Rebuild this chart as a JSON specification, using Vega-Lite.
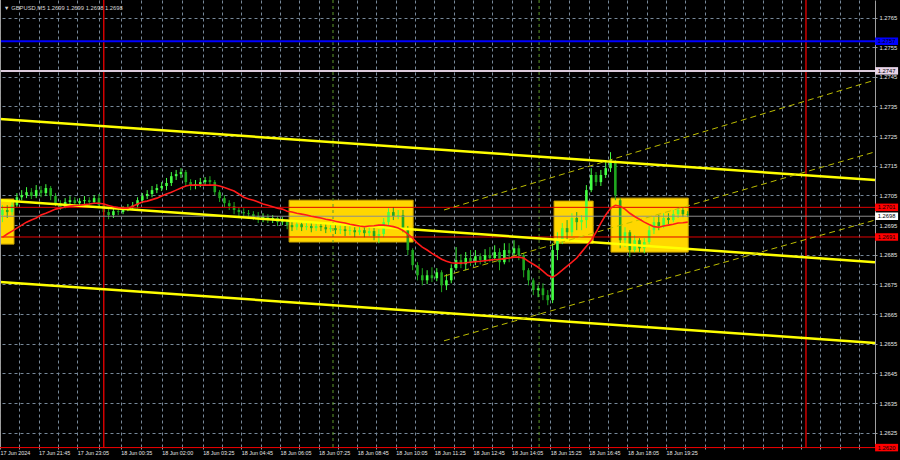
{
  "$schema": "https://vega.github.io/schema/vega-lite/v6.json",
  "width": 875,
  "height": 447,
  "autosize": "none",
  "padding": {"left": 0, "top": 0, "right": 25, "bottom": 13},
  "background": "#000000",
  "config": {"view": {"stroke": null}, "font": "Liberation Sans", "axis": {"labelOverlap": false}},
  "datasets": {
    "boxes": [
      {"t1": "2024-06-17T20:25Z", "t2": "2024-06-17T20:54Z", "top": 1.27038, "bottom": 1.26886},
      {"t1": "2024-06-18T06:24Z", "t2": "2024-06-18T10:41Z", "top": 1.27034, "bottom": 1.26893},
      {"t1": "2024-06-18T15:33Z", "t2": "2024-06-18T16:54Z", "top": 1.27031, "bottom": 1.26889},
      {"t1": "2024-06-18T17:31Z", "t2": "2024-06-18T20:11Z", "top": 1.27041, "bottom": 1.26859}
    ],
    "trends": [
      {"set": "falling", "t1": "2024-06-17T20:25Z", "p1": 1.27308, "t2": "2024-06-19T02:38Z", "p2": 1.27102},
      {"set": "falling", "t1": "2024-06-17T20:25Z", "p1": 1.27034, "t2": "2024-06-19T02:38Z", "p2": 1.26825},
      {"set": "falling", "t1": "2024-06-17T20:25Z", "p1": 1.26758, "t2": "2024-06-19T02:38Z", "p2": 1.26553},
      {"set": "rising", "t1": "2024-06-18T11:45Z", "p1": 1.27001, "t2": "2024-06-19T02:38Z", "p2": 1.27439},
      {"set": "rising", "t1": "2024-06-18T11:45Z", "p1": 1.26778, "t2": "2024-06-19T02:38Z", "p2": 1.27197},
      {"set": "rising", "t1": "2024-06-18T11:45Z", "p1": 1.26560, "t2": "2024-06-19T02:38Z", "p2": 1.26967}
    ],
    "vlines": [
      {"t": "2024-06-18T00:00Z", "kind": "day"},
      {"t": "2024-06-19T00:15Z", "kind": "day"},
      {"t": "2024-06-18T07:55Z", "kind": "signal"},
      {"t": "2024-06-18T15:02Z", "kind": "signal"}
    ],
    "levels": [
      {"name": "blue", "price": 1.2757},
      {"name": "lavender", "price": 1.2747},
      {"name": "red_upper", "price": 1.2701},
      {"name": "bid", "price": 1.2698},
      {"name": "red_lower", "price": 1.2691},
      {"name": "red_bottom", "price": 1.2620}
    ],
    "candles": [
      {"t":"2024-06-17T20:30Z","o":1.26984,"h":1.27017,"l":1.26960,"c":1.27001,"ma":1.26909},
      {"t":"2024-06-17T20:40Z","o":1.27001,"h":1.27017,"l":1.26974,"c":1.26994,"ma":1.26920},
      {"t":"2024-06-17T20:50Z","o":1.26994,"h":1.27034,"l":1.26984,"c":1.27017,"ma":1.26930},
      {"t":"2024-06-17T21:00Z","o":1.27017,"h":1.27058,"l":1.27011,"c":1.27044,"ma":1.26940},
      {"t":"2024-06-17T21:10Z","o":1.27044,"h":1.27068,"l":1.27034,"c":1.27051,"ma":1.26950},
      {"t":"2024-06-17T21:20Z","o":1.27051,"h":1.27078,"l":1.27041,"c":1.27061,"ma":1.26960},
      {"t":"2024-06-17T21:30Z","o":1.27061,"h":1.27075,"l":1.27038,"c":1.27048,"ma":1.26967},
      {"t":"2024-06-17T21:40Z","o":1.27048,"h":1.27085,"l":1.27041,"c":1.27068,"ma":1.26974},
      {"t":"2024-06-17T21:50Z","o":1.27068,"h":1.27082,"l":1.27044,"c":1.27058,"ma":1.26984},
      {"t":"2024-06-17T22:00Z","o":1.27058,"h":1.27088,"l":1.27048,"c":1.27075,"ma":1.26990},
      {"t":"2024-06-17T22:10Z","o":1.27075,"h":1.27082,"l":1.27034,"c":1.27048,"ma":1.26997},
      {"t":"2024-06-17T22:20Z","o":1.27048,"h":1.27058,"l":1.27014,"c":1.27024,"ma":1.27004},
      {"t":"2024-06-17T22:30Z","o":1.27024,"h":1.27034,"l":1.27001,"c":1.27011,"ma":1.27007},
      {"t":"2024-06-17T22:40Z","o":1.27011,"h":1.27041,"l":1.27007,"c":1.27028,"ma":1.27011},
      {"t":"2024-06-17T22:50Z","o":1.27028,"h":1.27048,"l":1.27017,"c":1.27034,"ma":1.27014},
      {"t":"2024-06-17T23:00Z","o":1.27034,"h":1.27044,"l":1.27014,"c":1.27024,"ma":1.27016},
      {"t":"2024-06-17T23:10Z","o":1.27024,"h":1.27041,"l":1.27014,"c":1.27031,"ma":1.27017},
      {"t":"2024-06-17T23:20Z","o":1.27031,"h":1.27048,"l":1.27021,"c":1.27034,"ma":1.27019},
      {"t":"2024-06-17T23:30Z","o":1.27034,"h":1.27044,"l":1.27017,"c":1.27028,"ma":1.27021},
      {"t":"2024-06-17T23:40Z","o":1.27028,"h":1.27051,"l":1.27021,"c":1.27041,"ma":1.27024},
      {"t":"2024-06-17T23:50Z","o":1.27041,"h":1.27055,"l":1.27007,"c":1.27017,"ma":1.27024},
      {"t":"2024-06-18T00:00Z","o":1.27017,"h":1.27024,"l":1.26980,"c":1.26994,"ma":1.27021},
      {"t":"2024-06-18T00:10Z","o":1.26994,"h":1.27004,"l":1.26970,"c":1.26984,"ma":1.27016},
      {"t":"2024-06-18T00:20Z","o":1.26984,"h":1.27007,"l":1.26974,"c":1.26997,"ma":1.27012},
      {"t":"2024-06-18T00:30Z","o":1.26997,"h":1.27007,"l":1.26984,"c":1.26994,"ma":1.27009},
      {"t":"2024-06-18T00:40Z","o":1.26994,"h":1.27014,"l":1.26987,"c":1.27004,"ma":1.27007},
      {"t":"2024-06-18T00:50Z","o":1.27004,"h":1.27021,"l":1.26997,"c":1.27011,"ma":1.27007},
      {"t":"2024-06-18T01:00Z","o":1.27011,"h":1.27028,"l":1.27001,"c":1.27017,"ma":1.27014},
      {"t":"2024-06-18T01:10Z","o":1.27017,"h":1.27044,"l":1.27007,"c":1.27034,"ma":1.27021},
      {"t":"2024-06-18T01:20Z","o":1.27034,"h":1.27058,"l":1.27024,"c":1.27048,"ma":1.27028},
      {"t":"2024-06-18T01:30Z","o":1.27048,"h":1.27068,"l":1.27038,"c":1.27055,"ma":1.27031},
      {"t":"2024-06-18T01:40Z","o":1.27055,"h":1.27082,"l":1.27044,"c":1.27068,"ma":1.27036},
      {"t":"2024-06-18T01:50Z","o":1.27068,"h":1.27088,"l":1.27058,"c":1.27075,"ma":1.27041},
      {"t":"2024-06-18T02:00Z","o":1.27075,"h":1.27095,"l":1.27065,"c":1.27082,"ma":1.27048},
      {"t":"2024-06-18T02:10Z","o":1.27082,"h":1.27109,"l":1.27068,"c":1.27092,"ma":1.27055},
      {"t":"2024-06-18T02:20Z","o":1.27092,"h":1.27129,"l":1.27082,"c":1.27115,"ma":1.27061},
      {"t":"2024-06-18T02:30Z","o":1.27115,"h":1.27136,"l":1.27102,"c":1.27122,"ma":1.27068},
      {"t":"2024-06-18T02:40Z","o":1.27122,"h":1.27142,"l":1.27109,"c":1.27129,"ma":1.27075},
      {"t":"2024-06-18T02:50Z","o":1.27129,"h":1.27136,"l":1.27082,"c":1.27095,"ma":1.27082},
      {"t":"2024-06-18T03:00Z","o":1.27095,"h":1.27105,"l":1.27068,"c":1.27082,"ma":1.27085},
      {"t":"2024-06-18T03:10Z","o":1.27082,"h":1.27102,"l":1.27071,"c":1.27088,"ma":1.27085},
      {"t":"2024-06-18T03:20Z","o":1.27088,"h":1.27109,"l":1.27078,"c":1.27095,"ma":1.27085},
      {"t":"2024-06-18T03:30Z","o":1.27095,"h":1.27112,"l":1.27085,"c":1.27102,"ma":1.27085},
      {"t":"2024-06-18T03:40Z","o":1.27102,"h":1.27115,"l":1.27082,"c":1.27095,"ma":1.27085},
      {"t":"2024-06-18T03:50Z","o":1.27095,"h":1.27102,"l":1.27051,"c":1.27061,"ma":1.27085},
      {"t":"2024-06-18T04:00Z","o":1.27061,"h":1.27068,"l":1.27028,"c":1.27041,"ma":1.27082},
      {"t":"2024-06-18T04:10Z","o":1.27041,"h":1.27051,"l":1.27011,"c":1.27024,"ma":1.27077},
      {"t":"2024-06-18T04:20Z","o":1.27024,"h":1.27034,"l":1.27001,"c":1.27014,"ma":1.27071},
      {"t":"2024-06-18T04:30Z","o":1.27014,"h":1.27028,"l":1.26987,"c":1.27001,"ma":1.27065},
      {"t":"2024-06-18T04:40Z","o":1.27001,"h":1.27011,"l":1.26980,"c":1.26994,"ma":1.27055},
      {"t":"2024-06-18T04:50Z","o":1.26994,"h":1.27007,"l":1.26977,"c":1.26990,"ma":1.27044},
      {"t":"2024-06-18T05:00Z","o":1.26990,"h":1.27001,"l":1.26974,"c":1.26987,"ma":1.27038},
      {"t":"2024-06-18T05:10Z","o":1.26987,"h":1.26997,"l":1.26967,"c":1.26980,"ma":1.27034},
      {"t":"2024-06-18T05:20Z","o":1.26980,"h":1.26994,"l":1.26957,"c":1.26970,"ma":1.27028},
      {"t":"2024-06-18T05:30Z","o":1.26970,"h":1.26990,"l":1.26960,"c":1.26977,"ma":1.27021},
      {"t":"2024-06-18T05:40Z","o":1.26977,"h":1.26987,"l":1.26957,"c":1.26967,"ma":1.27017},
      {"t":"2024-06-18T05:50Z","o":1.26967,"h":1.26984,"l":1.26957,"c":1.26974,"ma":1.27012},
      {"t":"2024-06-18T06:00Z","o":1.26974,"h":1.26980,"l":1.26947,"c":1.26960,"ma":1.27007},
      {"t":"2024-06-18T06:10Z","o":1.26960,"h":1.26977,"l":1.26950,"c":1.26963,"ma":1.27004},
      {"t":"2024-06-18T06:20Z","o":1.26963,"h":1.26970,"l":1.26936,"c":1.26950,"ma":1.26997},
      {"t":"2024-06-18T06:30Z","o":1.26950,"h":1.26960,"l":1.26930,"c":1.26943,"ma":1.26994},
      {"t":"2024-06-18T06:40Z","o":1.26943,"h":1.26963,"l":1.26933,"c":1.26953,"ma":1.26990},
      {"t":"2024-06-18T06:50Z","o":1.26953,"h":1.26960,"l":1.26930,"c":1.26943,"ma":1.26987},
      {"t":"2024-06-18T07:00Z","o":1.26943,"h":1.26957,"l":1.26933,"c":1.26947,"ma":1.26984},
      {"t":"2024-06-18T07:10Z","o":1.26947,"h":1.26960,"l":1.26926,"c":1.26940,"ma":1.26980},
      {"t":"2024-06-18T07:20Z","o":1.26940,"h":1.26957,"l":1.26930,"c":1.26947,"ma":1.26977},
      {"t":"2024-06-18T07:30Z","o":1.26947,"h":1.26957,"l":1.26930,"c":1.26943,"ma":1.26974},
      {"t":"2024-06-18T07:40Z","o":1.26943,"h":1.26953,"l":1.26923,"c":1.26936,"ma":1.26970},
      {"t":"2024-06-18T07:50Z","o":1.26936,"h":1.26950,"l":1.26926,"c":1.26940,"ma":1.26967},
      {"t":"2024-06-18T08:00Z","o":1.26940,"h":1.26950,"l":1.26920,"c":1.26933,"ma":1.26963},
      {"t":"2024-06-18T08:10Z","o":1.26933,"h":1.26950,"l":1.26920,"c":1.26936,"ma":1.26960},
      {"t":"2024-06-18T08:20Z","o":1.26936,"h":1.26947,"l":1.26913,"c":1.26930,"ma":1.26957},
      {"t":"2024-06-18T08:30Z","o":1.26930,"h":1.26947,"l":1.26916,"c":1.26933,"ma":1.26953},
      {"t":"2024-06-18T08:40Z","o":1.26933,"h":1.26943,"l":1.26909,"c":1.26926,"ma":1.26950},
      {"t":"2024-06-18T08:50Z","o":1.26926,"h":1.26947,"l":1.26916,"c":1.26933,"ma":1.26947},
      {"t":"2024-06-18T09:00Z","o":1.26933,"h":1.26943,"l":1.26909,"c":1.26923,"ma":1.26945},
      {"t":"2024-06-18T09:10Z","o":1.26923,"h":1.26943,"l":1.26913,"c":1.26930,"ma":1.26947},
      {"t":"2024-06-18T09:20Z","o":1.26930,"h":1.26940,"l":1.26899,"c":1.26913,"ma":1.26948},
      {"t":"2024-06-18T09:30Z","o":1.26913,"h":1.26936,"l":1.26889,"c":1.26920,"ma":1.26950},
      {"t":"2024-06-18T09:40Z","o":1.26920,"h":1.26974,"l":1.26909,"c":1.26960,"ma":1.26950},
      {"t":"2024-06-18T09:50Z","o":1.26960,"h":1.27007,"l":1.26950,"c":1.26994,"ma":1.26948},
      {"t":"2024-06-18T10:00Z","o":1.26994,"h":1.27011,"l":1.26967,"c":1.26980,"ma":1.26945},
      {"t":"2024-06-18T10:10Z","o":1.26980,"h":1.27001,"l":1.26970,"c":1.26984,"ma":1.26940},
      {"t":"2024-06-18T10:20Z","o":1.26984,"h":1.27001,"l":1.26926,"c":1.26940,"ma":1.26932},
      {"t":"2024-06-18T10:30Z","o":1.26940,"h":1.26947,"l":1.26849,"c":1.26866,"ma":1.26920},
      {"t":"2024-06-18T10:40Z","o":1.26866,"h":1.26872,"l":1.26798,"c":1.26815,"ma":1.26906},
      {"t":"2024-06-18T10:50Z","o":1.26815,"h":1.26825,"l":1.26764,"c":1.26781,"ma":1.26889},
      {"t":"2024-06-18T11:00Z","o":1.26781,"h":1.26805,"l":1.26747,"c":1.26764,"ma":1.26876},
      {"t":"2024-06-18T11:10Z","o":1.26764,"h":1.26798,"l":1.26751,"c":1.26781,"ma":1.26866},
      {"t":"2024-06-18T11:20Z","o":1.26781,"h":1.26808,"l":1.26758,"c":1.26771,"ma":1.26855},
      {"t":"2024-06-18T11:30Z","o":1.26771,"h":1.26805,"l":1.26761,"c":1.26791,"ma":1.26845},
      {"t":"2024-06-18T11:40Z","o":1.26791,"h":1.26798,"l":1.26724,"c":1.26747,"ma":1.26835},
      {"t":"2024-06-18T11:50Z","o":1.26747,"h":1.26785,"l":1.26731,"c":1.26764,"ma":1.26828},
      {"t":"2024-06-18T12:00Z","o":1.26764,"h":1.26818,"l":1.26754,"c":1.26805,"ma":1.26823},
      {"t":"2024-06-18T12:10Z","o":1.26805,"h":1.26876,"l":1.26798,"c":1.26832,"ma":1.26822},
      {"t":"2024-06-18T12:20Z","o":1.26832,"h":1.26852,"l":1.26805,"c":1.26818,"ma":1.26822},
      {"t":"2024-06-18T12:30Z","o":1.26818,"h":1.26859,"l":1.26798,"c":1.26839,"ma":1.26823},
      {"t":"2024-06-18T12:40Z","o":1.26839,"h":1.26866,"l":1.26812,"c":1.26825,"ma":1.26825},
      {"t":"2024-06-18T12:50Z","o":1.26825,"h":1.26866,"l":1.26815,"c":1.26845,"ma":1.26827},
      {"t":"2024-06-18T13:00Z","o":1.26845,"h":1.26855,"l":1.26818,"c":1.26832,"ma":1.26828},
      {"t":"2024-06-18T13:10Z","o":1.26832,"h":1.26869,"l":1.26822,"c":1.26849,"ma":1.26830},
      {"t":"2024-06-18T13:20Z","o":1.26849,"h":1.26876,"l":1.26825,"c":1.26839,"ma":1.26832},
      {"t":"2024-06-18T13:30Z","o":1.26839,"h":1.26882,"l":1.26832,"c":1.26859,"ma":1.26834},
      {"t":"2024-06-18T13:40Z","o":1.26859,"h":1.26872,"l":1.26798,"c":1.26825,"ma":1.26835},
      {"t":"2024-06-18T13:50Z","o":1.26825,"h":1.26889,"l":1.26818,"c":1.26866,"ma":1.26837},
      {"t":"2024-06-18T14:00Z","o":1.26866,"h":1.26889,"l":1.26825,"c":1.26855,"ma":1.26839},
      {"t":"2024-06-18T14:10Z","o":1.26855,"h":1.26899,"l":1.26845,"c":1.26872,"ma":1.26842},
      {"t":"2024-06-18T14:20Z","o":1.26872,"h":1.26882,"l":1.26832,"c":1.26849,"ma":1.26842},
      {"t":"2024-06-18T14:30Z","o":1.26849,"h":1.26855,"l":1.26774,"c":1.26798,"ma":1.26839},
      {"t":"2024-06-18T14:40Z","o":1.26798,"h":1.26805,"l":1.26747,"c":1.26764,"ma":1.26828},
      {"t":"2024-06-18T14:50Z","o":1.26764,"h":1.26771,"l":1.26714,"c":1.26731,"ma":1.26818},
      {"t":"2024-06-18T15:00Z","o":1.26731,"h":1.26747,"l":1.26707,"c":1.26737,"ma":1.26808},
      {"t":"2024-06-18T15:10Z","o":1.26737,"h":1.26754,"l":1.26697,"c":1.26714,"ma":1.26795},
      {"t":"2024-06-18T15:20Z","o":1.26714,"h":1.26731,"l":1.26680,"c":1.26697,"ma":1.26781},
      {"t":"2024-06-18T15:30Z","o":1.26697,"h":1.26889,"l":1.26687,"c":1.26866,"ma":1.26774},
      {"t":"2024-06-18T15:40Z","o":1.26866,"h":1.26926,"l":1.26832,"c":1.26899,"ma":1.26785},
      {"t":"2024-06-18T15:50Z","o":1.26899,"h":1.26957,"l":1.26886,"c":1.26940,"ma":1.26798},
      {"t":"2024-06-18T16:00Z","o":1.26940,"h":1.26967,"l":1.26899,"c":1.26926,"ma":1.26812},
      {"t":"2024-06-18T16:10Z","o":1.26926,"h":1.26990,"l":1.26913,"c":1.26974,"ma":1.26825},
      {"t":"2024-06-18T16:20Z","o":1.26974,"h":1.26994,"l":1.26933,"c":1.26960,"ma":1.26839},
      {"t":"2024-06-18T16:30Z","o":1.26960,"h":1.26984,"l":1.26933,"c":1.26967,"ma":1.26859},
      {"t":"2024-06-18T16:40Z","o":1.26967,"h":1.27085,"l":1.26940,"c":1.27068,"ma":1.26879},
      {"t":"2024-06-18T16:50Z","o":1.27068,"h":1.27142,"l":1.27061,"c":1.27119,"ma":1.26899},
      {"t":"2024-06-18T17:00Z","o":1.27119,"h":1.27129,"l":1.27082,"c":1.27095,"ma":1.26926},
      {"t":"2024-06-18T17:10Z","o":1.27095,"h":1.27136,"l":1.27082,"c":1.27119,"ma":1.26957},
      {"t":"2024-06-18T17:20Z","o":1.27119,"h":1.27169,"l":1.27109,"c":1.27142,"ma":1.26984},
      {"t":"2024-06-18T17:30Z","o":1.27142,"h":1.27196,"l":1.27129,"c":1.27169,"ma":1.27007},
      {"t":"2024-06-18T17:40Z","o":1.27163,"h":1.27169,"l":1.27034,"c":1.27051,"ma":1.27017},
      {"t":"2024-06-18T17:50Z","o":1.27034,"h":1.27041,"l":1.26872,"c":1.26899,"ma":1.27014},
      {"t":"2024-06-18T18:00Z","o":1.26899,"h":1.26943,"l":1.26876,"c":1.26926,"ma":1.27004},
      {"t":"2024-06-18T18:10Z","o":1.26926,"h":1.26933,"l":1.26842,"c":1.26866,"ma":1.26990},
      {"t":"2024-06-18T18:20Z","o":1.26866,"h":1.26916,"l":1.26859,"c":1.26899,"ma":1.26979},
      {"t":"2024-06-18T18:30Z","o":1.26899,"h":1.26906,"l":1.26859,"c":1.26872,"ma":1.26970},
      {"t":"2024-06-18T18:40Z","o":1.26872,"h":1.26906,"l":1.26855,"c":1.26893,"ma":1.26960},
      {"t":"2024-06-18T18:50Z","o":1.26893,"h":1.26947,"l":1.26886,"c":1.26933,"ma":1.26952},
      {"t":"2024-06-18T19:00Z","o":1.26933,"h":1.26977,"l":1.26920,"c":1.26960,"ma":1.26945},
      {"t":"2024-06-18T19:10Z","o":1.26960,"h":1.26984,"l":1.26933,"c":1.26947,"ma":1.26943},
      {"t":"2024-06-18T19:20Z","o":1.26947,"h":1.26990,"l":1.26940,"c":1.26974,"ma":1.26947},
      {"t":"2024-06-18T19:30Z","o":1.26974,"h":1.26990,"l":1.26953,"c":1.26967,"ma":1.26950},
      {"t":"2024-06-18T19:40Z","o":1.26967,"h":1.27001,"l":1.26960,"c":1.26987,"ma":1.26953},
      {"t":"2024-06-18T19:50Z","o":1.26987,"h":1.27011,"l":1.26974,"c":1.27001,"ma":1.26957},
      {"t":"2024-06-18T20:00Z","o":1.27001,"h":1.27007,"l":1.26977,"c":1.26987,"ma":1.26958},
      {"t":"2024-06-18T20:10Z","o":1.26987,"h":1.26997,"l":1.26977,"c":1.26984,"ma":1.26960}
    ]
  },
  "layer": [
    {
      "data": {"name": "boxes"},
      "mark": {"type": "rect", "fill": "#ffd700", "stroke": "#c9a000", "strokeWidth": 1},
      "encoding": {
        "x": {
          "field": "t1", "type": "temporal",
          "scale": {"type": "utc", "domain": [1718655900000, 1718764680000], "nice": false},
          "axis": {
            "title": null, "orient": "bottom", "tickCount": 200,
            "values": [1718655900000,1718658300000,1718660700000,1718663100000,1718665500000,1718668200000,1718670900000,1718673420000,1718676000000,1718678520000,1718681100000,1718683500000,1718685900000,1718688300000,1718690700000,1718693100000,1718695500000,1718697900000,1718700300000,1718702700000,1718705100000,1718707500000,1718709900000,1718712300000,1718714700000,1718717100000,1718719500000,1718721900000,1718724300000,1718726700000,1718729100000,1718731500000,1718733900000,1718736300000,1718738700000,1718741100000,1718743500000,1718745900000,1718748300000,1718750700000,1718753100000,1718755500000,1718757900000,1718760300000,1718762700000],
            "labelExpr": "toNumber(datum.value) == 1718655900000 ? '17 Jun 2024' : (indexof([1718660700000,1718665500000,1718670900000,1718676000000,1718681100000,1718685900000,1718690700000,1718695500000,1718700300000,1718705100000,1718709900000,1718714700000,1718719500000,1718724300000,1718729100000,1718733900000,1718738700000], toNumber(datum.value)) >= 0 ? utcFormat(datum.value, '%d %b %H:%M') : '')",
            "labelAlign": "left", "labelColor": "#e6e6e6", "labelFontSize": 5.4,
            "labelPadding": 1, "labelOverlap": false, "labelFlush": false, "labelBound": false,
            "tickColor": "#9a9a9a", "tickSize": 2, "domainColor": "#ff0000",
            "grid": true, "gridColor": "#778899", "gridDash": [3, 3], "gridWidth": 1
          }
        },
        "x2": {"field": "t2"},
        "y": {
          "field": "top", "type": "quantitative",
          "scale": {"domain": [1.26202, 1.27709], "nice": false, "zero": false},
          "axis": {
            "title": null, "orient": "right", "tickCount": 100,
            "values": [1.2625,1.2635,1.2645,1.2655,1.2665,1.2675,1.2685,1.2695,1.2705,1.2715,1.2725,1.2735,1.2745,1.2755,1.2765],
            "format": ".4f", "labelColor": "#e6e6e6", "labelFontSize": 5.8, "labelPadding": 2,
            "labelOverlap": false, "labelFlush": false,
            "tickSize": 2, "tickColor": "#9a9a9a", "domainColor": "#a0a0a0",
            "grid": true, "gridColor": "#778899", "gridDash": [3, 3], "gridWidth": 1
          }
        },
        "y2": {"field": "bottom"}
      }
    },
    {
      "data": {"name": "vlines"},
      "transform": [{"filter": "datum.kind == 'signal'"}],
      "mark": {"type": "rule", "color": "#5d9a2a", "strokeWidth": 1, "strokeDash": [3, 3]},
      "encoding": {"x": {"field": "t", "type": "temporal"}}
    },
    {
      "data": {"name": "candles"},
      "mark": {"type": "rule", "strokeWidth": 1},
      "encoding": {
        "x": {"field": "t", "type": "temporal"},
        "y": {"field": "l", "type": "quantitative"},
        "y2": {"field": "h"},
        "color": {"condition": {"test": "datum.c >= datum.o", "value": "#44ff44"}, "value": "#1fa81f"}
      }
    },
    {
      "data": {"name": "candles"},
      "mark": {"type": "rule", "strokeWidth": 2.6},
      "encoding": {
        "x": {"field": "t", "type": "temporal"},
        "y": {"field": "o", "type": "quantitative"},
        "y2": {"field": "c"},
        "color": {"condition": {"test": "datum.c >= datum.o", "value": "#44ff44"}, "value": "#1fa81f"}
      }
    },
    {
      "data": {"name": "vlines"},
      "transform": [{"filter": "datum.kind == 'day'"}],
      "mark": {"type": "rule", "color": "#ee0000", "strokeWidth": 1.3},
      "encoding": {"x": {"field": "t", "type": "temporal"}}
    },
    {
      "data": {"name": "levels"},
      "mark": {"type": "rule"},
      "encoding": {
        "y": {"field": "price", "type": "quantitative"},
        "color": {
          "condition": [
            {"test": "datum.name == 'blue'", "value": "#0000ff"},
            {"test": "datum.name == 'lavender'", "value": "#dccbdc"},
            {"test": "datum.name == 'bid'", "value": "#8c8c8c"}
          ],
          "value": "#e00000"
        },
        "strokeWidth": {
          "condition": {"test": "datum.name == 'blue' || datum.name == 'lavender'", "value": 2},
          "value": 1
        }
      }
    },
    {
      "data": {"name": "trends"},
      "transform": [{"filter": "datum.set == 'falling'"}],
      "mark": {"type": "rule", "color": "#ffff00", "strokeWidth": 2.5},
      "encoding": {
        "x": {"field": "t1", "type": "temporal"},
        "x2": {"field": "t2"},
        "y": {"field": "p1", "type": "quantitative"},
        "y2": {"field": "p2"}
      }
    },
    {
      "data": {"name": "trends"},
      "transform": [{"filter": "datum.set == 'rising'"}],
      "mark": {"type": "rule", "color": "#bdbd00", "strokeWidth": 1, "strokeDash": [6, 4]},
      "encoding": {
        "x": {"field": "t1", "type": "temporal"},
        "x2": {"field": "t2"},
        "y": {"field": "p1", "type": "quantitative"},
        "y2": {"field": "p2"}
      }
    },
    {
      "data": {"name": "candles"},
      "mark": {"type": "line", "color": "#ff1a1a", "strokeWidth": 1.6},
      "encoding": {
        "x": {"field": "t", "type": "temporal"},
        "y": {"field": "ma", "type": "quantitative"}
      }
    },
    {
      "data": {"values": [{"edge": "left"}]},
      "mark": {"type": "rule", "color": "#a0a0a0", "strokeWidth": 1},
      "encoding": {"x": {"datum": {"year": 2024, "month": 6, "date": 17, "hours": 20, "minutes": 26, "utc": true}, "type": "temporal"}}
    },
    {
      "data": {"name": "levels"},
      "mark": {"type": "tick", "orient": "horizontal", "size": 23, "thickness": 7.5, "opacity": 1},
      "encoding": {
        "x": {"datum": {"year": 2024, "month": 6, "date": 19, "hours": 3, "minutes": 2, "utc": true}, "type": "temporal"},
        "y": {"field": "price", "type": "quantitative"},
        "color": {
          "condition": [
            {"test": "datum.name == 'blue'", "value": "#0000ff"},
            {"test": "datum.name == 'lavender'", "value": "#e8d4e8"},
            {"test": "datum.name == 'bid'", "value": "#ffffff"}
          ],
          "value": "#ff0000"
        }
      }
    },
    {
      "data": {"name": "levels"},
      "mark": {"type": "text", "fontSize": 5.8, "align": "center", "baseline": "middle", "color": "#000000"},
      "encoding": {
        "x": {"datum": {"year": 2024, "month": 6, "date": 19, "hours": 3, "minutes": 2, "utc": true}, "type": "temporal"},
        "y": {"field": "price", "type": "quantitative"},
        "text": {"field": "price", "type": "quantitative", "format": ".4f"}
      }
    },
    {
      "data": {"values": [{"title": "▼ GBPUSD,M5  1.2699 1.2699 1.2698 1.2698"}]},
      "mark": {"type": "text", "fontSize": 5.8, "align": "left", "baseline": "middle", "color": "#d6d6d6"},
      "encoding": {
        "x": {"datum": {"year": 2024, "month": 6, "date": 17, "hours": 20, "minutes": 33, "utc": true}, "type": "temporal"},
        "y": {"datum": 1.27682, "type": "quantitative"},
        "text": {"field": "title", "type": "nominal"}
      }
    }
  ]
}
